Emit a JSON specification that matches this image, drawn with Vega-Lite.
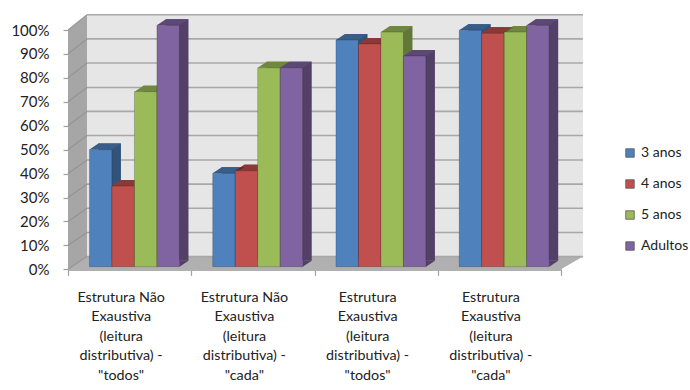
{
  "$schema": "https://vega.github.io/schema/vega-lite/v6.json",
  "width": 493,
  "height": 239.3,
  "autosize": {"type": "none"},
  "padding": {"left": 68, "top": 30, "right": 129, "bottom": 120.7},
  "background": "white",
  "config": {"view": {"stroke": null}, "font": "Lato"},
  "datasets": {
    "respostas": [
      {"grupo": "Estrutura Não\nExaustiva\n(leitura\ndistributiva) -\n\"todos\"", "serie": "3 anos", "pct": 48.5},
      {"grupo": "Estrutura Não\nExaustiva\n(leitura\ndistributiva) -\n\"todos\"", "serie": "4 anos", "pct": 33.4},
      {"grupo": "Estrutura Não\nExaustiva\n(leitura\ndistributiva) -\n\"todos\"", "serie": "5 anos", "pct": 72.5},
      {"grupo": "Estrutura Não\nExaustiva\n(leitura\ndistributiva) -\n\"todos\"", "serie": "Adultos", "pct": 100},
      {"grupo": "Estrutura Não\nExaustiva\n(leitura\ndistributiva) -\n\"cada\"", "serie": "3 anos", "pct": 38.7},
      {"grupo": "Estrutura Não\nExaustiva\n(leitura\ndistributiva) -\n\"cada\"", "serie": "4 anos", "pct": 39.7},
      {"grupo": "Estrutura Não\nExaustiva\n(leitura\ndistributiva) -\n\"cada\"", "serie": "5 anos", "pct": 82.4},
      {"grupo": "Estrutura Não\nExaustiva\n(leitura\ndistributiva) -\n\"cada\"", "serie": "Adultos", "pct": 82.4},
      {"grupo": "Estrutura\nExaustiva\n(leitura\ndistributiva) -\n\"todos\"", "serie": "3 anos", "pct": 93.9},
      {"grupo": "Estrutura\nExaustiva\n(leitura\ndistributiva) -\n\"todos\"", "serie": "4 anos", "pct": 92.3},
      {"grupo": "Estrutura\nExaustiva\n(leitura\ndistributiva) -\n\"todos\"", "serie": "5 anos", "pct": 97.2},
      {"grupo": "Estrutura\nExaustiva\n(leitura\ndistributiva) -\n\"todos\"", "serie": "Adultos", "pct": 87.3},
      {"grupo": "Estrutura\nExaustiva\n(leitura\ndistributiva) -\n\"cada\"", "serie": "3 anos", "pct": 98},
      {"grupo": "Estrutura\nExaustiva\n(leitura\ndistributiva) -\n\"cada\"", "serie": "4 anos", "pct": 96.7},
      {"grupo": "Estrutura\nExaustiva\n(leitura\ndistributiva) -\n\"cada\"", "serie": "5 anos", "pct": 97.2},
      {"grupo": "Estrutura\nExaustiva\n(leitura\ndistributiva) -\n\"cada\"", "serie": "Adultos", "pct": 100}
    ],
    "grelha": [
      {"v": 0, "xa": 0, "xb": 0.154, "xc": 4.178, "ya": 0, "yb": 5.3},
      {"v": 10, "xa": 0, "xb": 0.154, "xc": 4.178, "ya": 10, "yb": 15.4},
      {"v": 20, "xa": 0, "xb": 0.154, "xc": 4.178, "ya": 20, "yb": 25.5},
      {"v": 30, "xa": 0, "xb": 0.154, "xc": 4.178, "ya": 30, "yb": 35.6},
      {"v": 40, "xa": 0, "xb": 0.154, "xc": 4.178, "ya": 40, "yb": 45.7},
      {"v": 50, "xa": 0, "xb": 0.154, "xc": 4.178, "ya": 50, "yb": 55.9},
      {"v": 60, "xa": 0, "xb": 0.154, "xc": 4.178, "ya": 60, "yb": 66},
      {"v": 70, "xa": 0, "xb": 0.154, "xc": 4.178, "ya": 70, "yb": 76},
      {"v": 80, "xa": 0, "xb": 0.154, "xc": 4.178, "ya": 80, "yb": 86.2},
      {"v": 90, "xa": 0, "xb": 0.154, "xc": 4.178, "ya": 90, "yb": 96.3},
      {"v": 100, "xa": 0, "xb": 0.154, "xc": 4.178, "ya": 100, "yb": 106.4}
    ]
  },
  "resolve": {"scale": {"x": "independent", "y": "independent", "xOffset": "independent"}, "axis": {"x": "independent", "y": "independent"}},
  "layer": [
    {
      "layer": [
        {
          "data": {"values": [{"x0": 0.154, "x1": 4.178, "y0": 5.3, "y1": 106.4}]},
          "mark": {"type": "rect", "fill": "#e6e6e6"},
          "encoding": {
            "x": {"field": "x0", "type": "quantitative", "scale": {"domain": [0, 4], "nice": false, "zero": false}, "axis": null},
            "x2": {"field": "x1"},
            "y": {"field": "y0", "type": "quantitative", "scale": {"domain": [0, 100], "nice": false, "zero": false},
              "axis": {"values": [0, 10, 20, 30, 40, 50, 60, 70, 80, 90, 100], "title": null, "grid": false, "domain": false, "labelOverlap": false,
                "labelExpr": "datum.value + '%'", "labelFont": "Lato", "labelFontSize": 15, "labelColor": "#222222",
                "tickColor": "#a0a0a0", "tickSize": 5, "tickWidth": 1.2, "labelPadding": 14}},
            "y2": {"field": "y1"}
          }
        },
        {
          "data": {"values": [{"x": 0, "lo": 0, "hi": 100}, {"x": 0.154, "lo": 5.3, "hi": 106.4}]},
          "mark": {"type": "area", "fill": "#a6a6a6"},
          "encoding": {
            "x": {"field": "x", "type": "quantitative", "axis": null},
            "y": {"field": "lo", "type": "quantitative", "stack": null,
              "axis": {"values": [0, 10, 20, 30, 40, 50, 60, 70, 80, 90, 100], "title": null, "grid": false, "domain": false, "labelOverlap": false,
                "labelExpr": "datum.value + '%'", "labelFont": "Lato", "labelFontSize": 15, "labelColor": "#222222",
                "tickColor": "#a0a0a0", "tickSize": 5, "tickWidth": 1.2, "labelPadding": 14}},
            "y2": {"field": "hi"}
          }
        },
        {
          "data": {"values": [{"y": 0, "x0": 0, "x1": 4}, {"y": 5.3, "x0": 0.154, "x1": 4.178}]},
          "mark": {"type": "area", "orient": "horizontal", "fill": "#b0b0b0"},
          "encoding": {
            "y": {"field": "y", "type": "quantitative",
              "axis": {"values": [0, 10, 20, 30, 40, 50, 60, 70, 80, 90, 100], "title": null, "grid": false, "domain": false, "labelOverlap": false,
                "labelExpr": "datum.value + '%'", "labelFont": "Lato", "labelFontSize": 15, "labelColor": "#222222",
                "tickColor": "#a0a0a0", "tickSize": 5, "tickWidth": 1.2, "labelPadding": 14}},
            "x": {"field": "x0", "type": "quantitative", "stack": null, "axis": null},
            "x2": {"field": "x1"}
          }
        },
        {
          "data": {"name": "grelha"},
          "mark": {"type": "rule", "color": "#8f8f8f", "strokeWidth": 1.2, "opacity": 0.8},
          "encoding": {
            "x": {"field": "xa", "type": "quantitative", "axis": null},
            "x2": {"field": "xb"},
            "y": {"field": "ya", "type": "quantitative",
              "axis": {"values": [0, 10, 20, 30, 40, 50, 60, 70, 80, 90, 100], "title": null, "grid": false, "domain": false, "labelOverlap": false,
                "labelExpr": "datum.value + '%'", "labelFont": "Lato", "labelFontSize": 15, "labelColor": "#222222",
                "tickColor": "#a0a0a0", "tickSize": 5, "tickWidth": 1.2, "labelPadding": 14}},
            "y2": {"field": "yb"}
          }
        },
        {
          "data": {"name": "grelha"},
          "mark": {"type": "rule", "color": "#a8a8a8", "strokeWidth": 1.6},
          "encoding": {
            "x": {"field": "xb", "type": "quantitative", "axis": null},
            "x2": {"field": "xc"},
            "y": {"field": "yb", "type": "quantitative",
              "axis": {"values": [0, 10, 20, 30, 40, 50, 60, 70, 80, 90, 100], "title": null, "grid": false, "domain": false, "labelOverlap": false,
                "labelExpr": "datum.value + '%'", "labelFont": "Lato", "labelFontSize": 15, "labelColor": "#222222",
                "tickColor": "#a0a0a0", "tickSize": 5, "tickWidth": 1.2, "labelPadding": 14}}
          }
        }
      ]
    },
    {
      "data": {"name": "respostas"},
      "mark": {"type": "bar", "opacity": 0},
      "encoding": {
        "x": {"field": "grupo", "type": "nominal", "sort": null,
          "scale": {"paddingInner": 0, "paddingOuter": 0},
          "axis": {"title": null, "labelAngle": 0, "labelExpr": "datum.value ? split(datum.value, '\\n') : ''", "tickBand": "extent",
            "labelFont": "Lato", "labelFontSize": 14.3, "labelColor": "#222222", "labelLineHeight": 19.5, "labelLimit": 200,
            "labelPadding": 15, "labelBaseline": "top", "labelOffset": -9,
            "domainColor": "#b0b0b0", "domainWidth": 2.5, "tickColor": "#a0a0a0", "tickSize": 6, "tickWidth": 1.2}},
        "y": {"field": "pct", "type": "quantitative", "stack": null, "scale": {"domain": [0, 100], "nice": false, "zero": false}, "axis": null}
      }
    },
    {
      "data": {"name": "respostas"},
      "encoding": {
        "x": {"field": "grupo", "type": "nominal", "sort": null, "axis": null,
          "scale": {"paddingInner": 0, "paddingOuter": 0, "range": [13.8, 506.8]}},
        "xOffset": {"field": "serie", "type": "nominal", "sort": null, "scale": {"paddingOuter": 0.74, "paddingInner": 0}},
        "y": {"field": "pct", "type": "quantitative", "stack": null, "axis": null,
          "scale": {"domain": [0, 100], "nice": false, "zero": false, "range": [230.7, -10.7]}},
        "color": {"field": "serie", "type": "nominal", "sort": null,
          "scale": {"domain": ["3 anos", "4 anos", "5 anos", "Adultos"], "range": ["#4f81bd", "#c0504d", "#9bbb59", "#8064a2"]},
          "legend": {"title": null, "orient": "none", "legendX": 555, "legendY": 116, "symbolType": "square", "symbolSize": 72,
            "symbolOpacity": 1, "symbolStrokeColor": "#555555", "symbolStrokeWidth": 0.8, "labelFont": "Lato", "labelFontSize": 14, "labelColor": "#222222", "rowPadding": 17, "labelOffset": 4}}
      },
      "layer": [
        {"mark": {"type": "bar"}},
        {"mark": {"type": "bar", "fill": "black", "fillOpacity": 0.36}}
      ]
    },
    {
      "data": {"name": "respostas"},
      "encoding": {
        "x": {"field": "grupo", "type": "nominal", "sort": null, "axis": null,
          "scale": {"paddingInner": 0, "paddingOuter": 0, "range": [4.8, 497.8]}},
        "xOffset": {"field": "serie", "type": "nominal", "sort": null, "scale": {"paddingOuter": 0.74, "paddingInner": 0}},
        "y": {"field": "pct", "type": "quantitative", "stack": null, "axis": null,
          "scale": {"domain": [0, 100], "nice": false, "zero": false, "range": [236.7, -4.7]}},
        "color": {"field": "serie", "type": "nominal", "sort": null,
          "scale": {"domain": ["3 anos", "4 anos", "5 anos", "Adultos"], "range": ["#4f81bd", "#c0504d", "#9bbb59", "#8064a2"]},
          "legend": {"title": null, "orient": "none", "legendX": 555, "legendY": 116, "symbolType": "square", "symbolSize": 72,
            "symbolOpacity": 1, "symbolStrokeColor": "#555555", "symbolStrokeWidth": 0.8, "labelFont": "Lato", "labelFontSize": 14, "labelColor": "#222222", "rowPadding": 17, "labelOffset": 4}}
      },
      "layer": [
        {
          "mark": {"type": "point", "filled": true, "shape": "M11.25,0L20.25,-6L11.25,-6Z", "size": 4, "opacity": 1},
          "encoding": {"y": {"datum": 0}}
        },
        {
          "mark": {"type": "point", "filled": true, "shape": "M11.25,0L20.25,-6L11.25,-6Z", "size": 4, "opacity": 0.36},
          "encoding": {"y": {"datum": 0}, "color": {"value": "black"}}
        },
        {"mark": {"type": "point", "filled": true, "shape": "M-11.25,0L11.25,0L20.25,-6L-2.25,-6Z", "size": 4, "opacity": 1}},
        {
          "mark": {"type": "point", "filled": true, "shape": "M-11.25,0L11.25,0L20.25,-6L-2.25,-6Z", "size": 4, "opacity": 0.28},
          "encoding": {"color": {"value": "black"}}
        },
        {"mark": {"type": "bar", "stroke": "#000000", "strokeOpacity": 0.18, "strokeWidth": 1}}
      ]
    }
  ]
}
